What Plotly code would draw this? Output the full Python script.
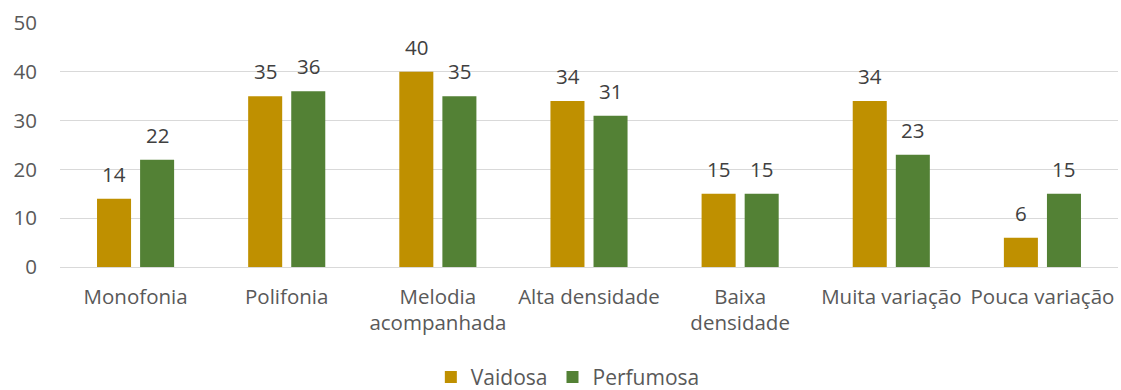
import plotly.graph_objects as go

categories = ["Monofonia", "Polifonia", "Melodia<br>acompanhada", "Alta densidade",
              "Baixa<br>densidade", "Muita variação", "Pouca variação"]
vaidosa = [14, 35, 40, 34, 15, 34, 6]
perfumosa = [22, 36, 35, 31, 15, 23, 15]
y_ticks = [0, 10, 20, 30, 40, 50]

FONT = "Open Sans"
SIZE = 20.5
GOLD = "#BF9000"
GREEN = "#538135"
BAR_OFFSET = 21.5  # half the slot of one bar within a group, in px

fig = go.Figure()
series = [("Vaidosa", vaidosa, GOLD, -BAR_OFFSET), ("Perfumosa", perfumosa, GREEN, BAR_OFFSET)]
for name, vals, color, dx in series:
    fig.add_trace(go.Bar(
        name=name, x=categories, y=vals,
        marker=dict(color=color, line=dict(width=0)),
    ))
    for cat, v in zip(categories, vals):
        fig.add_annotation(
            x=cat, y=v, text=str(v), showarrow=False,
            xshift=dx, yshift=25, yanchor="middle",
            font=dict(family=FONT, size=SIZE, color="#404040"),
        )

fig.update_layout(
    width=1121, height=390,
    margin=dict(l=60, r=3, t=23, b=123),
    paper_bgcolor="white", plot_bgcolor="white",
    barmode="group", bargap=0.43, bargroupgap=0.21,
    font=dict(family=FONT, size=SIZE, color="#595959"),
    legend=dict(orientation="h", x=0.48, xanchor="center",
                yref="container", y=0.085, yanchor="top",
                font=dict(family=FONT, size=21, color="#595959"),
                itemwidth=30, traceorder="normal", tracegroupgap=0),
    xaxis=dict(showline=False, ticks="", tickfont=dict(size=SIZE, color="#595959"),
               ticklabelstandoff=15, automargin=False),
    yaxis=dict(range=[0, 50], tickvals=y_ticks, showgrid=True, gridcolor="#D9D9D9",
               gridwidth=1, zeroline=True, zerolinecolor="#D9D9D9", zerolinewidth=1,
               tickfont=dict(size=SIZE, color="#595959"), ticklabelstandoff=22,
               automargin=False),
)

fig.write_html("out.html")
